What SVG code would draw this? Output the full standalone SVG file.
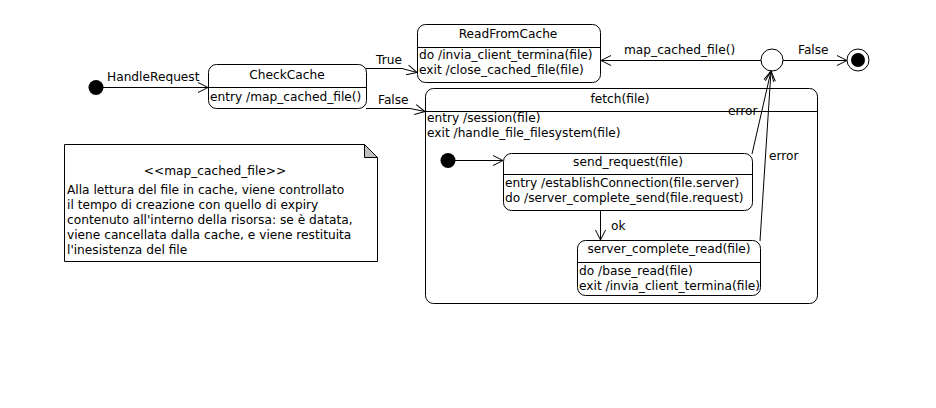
<svg xmlns="http://www.w3.org/2000/svg" width="936" height="408" viewBox="0 0 936 408">
<defs>
<marker id="arr" markerUnits="userSpaceOnUse" markerWidth="14" markerHeight="14" refX="11" refY="6" orient="auto">
<path d="M1,1 L11,6 L1,11" fill="none" stroke="#000" stroke-width="1"/>
</marker>
<style>
text{font-family:"DejaVu Sans","Liberation Sans",sans-serif;font-size:12.2px;fill:#000}
.st{fill:#fff;stroke:#000;stroke-width:1}
.ln{fill:none;stroke:#000;stroke-width:1}
.c{text-anchor:middle}
.cn{fill:none;stroke:#000;stroke-width:1;marker-end:url(#arr)}
</style>
</defs>
<rect width="936" height="408" fill="#fff"/>

<g id="note">
<path class="st" d="M64.5,144.5 H364.5 L377.5,157.5 V261.5 H64.5 Z"/>
<path d="M364.5,144.5 V157.5 H377.5 Z" fill="#c0c0c0" stroke="#000"/>
<text x="215" y="175" class="c">&lt;&lt;map_cached_file&gt;&gt;</text>
<text x="67" y="194">Alla lettura del file in cache, viene controllato</text>
<text x="67" y="209">il tempo di creazione con quello di expiry</text>
<text x="67" y="224">contenuto all'interno della risorsa: se è datata,</text>
<text x="67" y="239">viene cancellata dalla cache, e viene restituita</text>
<text x="67" y="254">l'inesistenza del file</text>
</g>

<g id="initial">
<circle cx="96" cy="87.5" r="7.5" fill="#000"/>
</g>

<g id="CheckCache">
<rect class="st" x="208.5" y="64.5" width="158" height="44" rx="8"/>
<line class="ln" x1="208.5" y1="87.5" x2="366.5" y2="87.5"/>
<text x="287" y="79" class="c">CheckCache</text>
<text x="210" y="101">entry /map_cached_file()</text>
</g>

<g id="ReadFromCache">
<rect class="st" x="417.5" y="24.5" width="183" height="58" rx="8"/>
<line class="ln" x1="417.5" y1="47.5" x2="600.5" y2="47.5"/>
<text x="508" y="38" class="c">ReadFromCache</text>
<text x="419" y="59">do /invia_client_termina(file)</text>
<text x="419" y="74">exit /close_cached_file(file)</text>
</g>

<g id="fetch">
<rect class="st" x="425.5" y="88.5" width="392" height="215" rx="8"/>
<line class="ln" x1="425.5" y1="111.5" x2="817.5" y2="111.5"/>
<text x="620" y="103" class="c">fetch(file)</text>
<text x="427" y="122">entry /session(file)</text>
<text x="427" y="137">exit /handle_file_filesystem(file)</text>
</g>

<g id="choice">
<circle cx="772" cy="60" r="11" fill="#fff" stroke="#000"/>
</g>

<g id="final">
<circle cx="858" cy="60" r="11" fill="#fff" stroke="#000"/>
<circle cx="858" cy="60" r="7" fill="#000"/>
</g>

<g id="fetchInitial">
<circle cx="448" cy="160.5" r="7.5" fill="#000"/>
</g>

<g id="send_request">
<rect class="st" x="503.5" y="153.5" width="249" height="57" rx="8"/>
<line class="ln" x1="503.5" y1="174.5" x2="752.5" y2="174.5"/>
<text x="628" y="166" class="c">send_request(file)</text>
<text x="505" y="187">entry /establishConnection(file.server)</text>
<text x="505" y="202">do /server_complete_send(file.request)</text>
</g>

<g id="server_complete_read">
<rect class="st" x="577.5" y="240.5" width="183" height="55" rx="8"/>
<line class="ln" x1="577.5" y1="262.5" x2="760.5" y2="262.5"/>
<text x="669" y="253" class="c">server_complete_read(file)</text>
<text x="579" y="275">do /base_read(file)</text>
<text x="579" y="290">exit /invia_client_termina(file)</text>
</g>

<g id="connectors">
<line class="cn" x1="103" y1="87.5" x2="208" y2="87.5"/>
<text x="107" y="81">HandleRequest</text>
<polyline class="cn" points="366,68.5 402,68.5 417,72.5"/>
<text x="376" y="64">True</text>
<polyline class="cn" points="366,108.5 410,108.5 425,111.5"/>
<text x="378" y="104">False</text>
<line class="cn" x1="761" y1="60.5" x2="601" y2="60.5"/>
<text x="624" y="54">map_cached_file()</text>
<line class="cn" x1="783" y1="60.5" x2="847" y2="60.5"/>
<text x="798" y="54">False</text>
<line class="cn" x1="752" y1="154" x2="771" y2="71"/>
<text x="728" y="115">error</text>
<line class="cn" x1="760" y1="241" x2="771" y2="71"/>
<text x="769" y="160">error</text>
<line class="cn" x1="455" y1="160.5" x2="503" y2="160.5"/>
<line class="cn" x1="600.5" y1="211" x2="600.5" y2="240"/>
<text x="611" y="230">ok</text>
</g>
</svg>
